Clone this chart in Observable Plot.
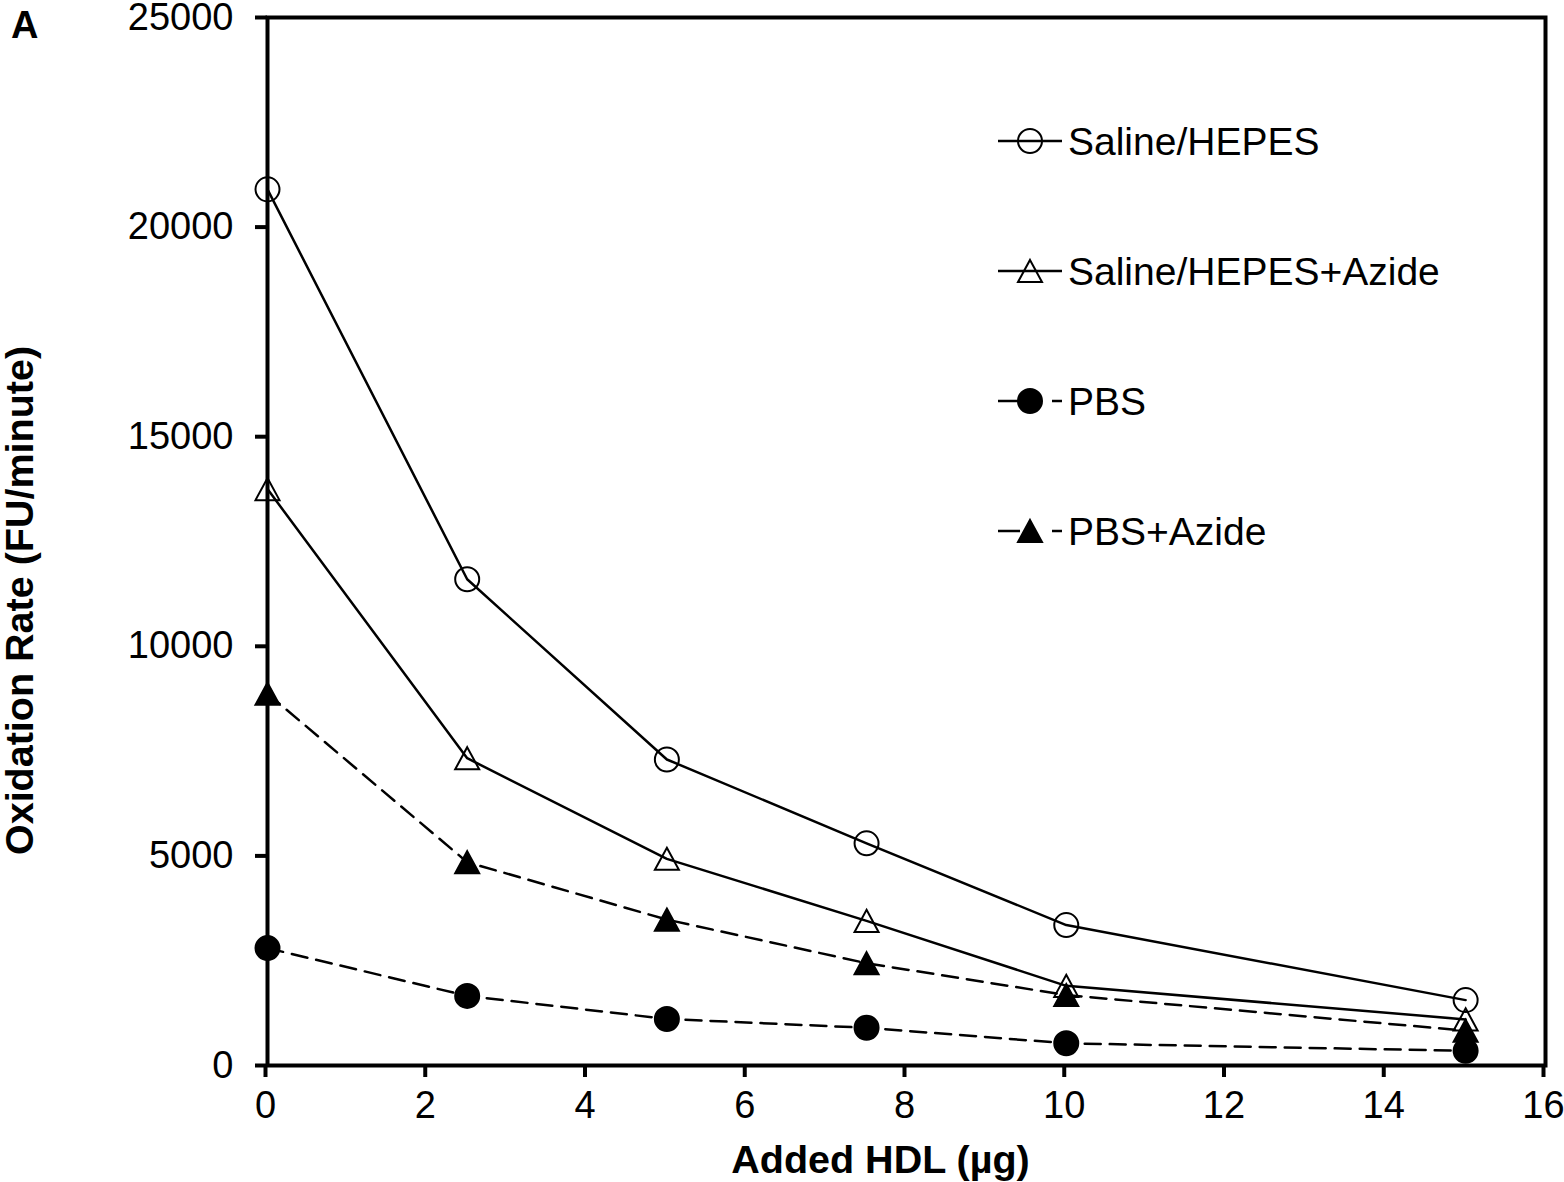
<!DOCTYPE html>
<html><head><meta charset="utf-8">
<script src="https://cdn.jsdelivr.net/npm/d3@7"></script>
<script src="https://cdn.jsdelivr.net/npm/@observablehq/plot@0.6"></script>
<style>
html,body{margin:0;padding:0;background:#fff;}
#wrap{position:relative;width:1564px;height:1182px;font-family:"Liberation Sans",Arial,sans-serif;}
#panel{position:absolute;left:11px;top:6px;font-weight:bold;font-size:38px;line-height:1;}
#legend{position:absolute;left:0;top:0;pointer-events:none;}
</style></head><body><div id="wrap"><div id="panel">A</div></div>
<script>
// ---- data ----
const hdl = [0, 2.5, 5, 7.5, 10, 15];
const seriesNames = ["Saline/HEPES", "Saline/HEPES+Azide", "PBS", "PBS+Azide"];
const salineHepes = [20900, 11600, 7300, 5300, 3350, 1560];
const salineHepesAzide = [13750, 7330, 4930, 3450, 1900, 1100];
const pbs = [2800, 1660, 1110, 900, 530, 350];
const pbsAzide = [8870, 4850, 3480, 2440, 1680, 830];
const xTicks = [0, 2, 4, 6, 8, 10, 12, 14, 16];
const yTicks = [0, 5000, 10000, 15000, 20000, 25000];
const xLabel = "Added HDL (µg)";
const yLabel = "Oxidation Rate (FU/minute)";

// ---- styles (kept separate from data) ----
const seriesValues = [salineHepes, salineHepesAzide, pbs, pbsAzide];
const style = {
  "Saline/HEPES": {shape: "circle", filled: false, dashed: false},
  "Saline/HEPES+Azide": {shape: "triangle", filled: false, dashed: false},
  "PBS": {shape: "circle", filled: true, dashed: true},
  "PBS+Azide": {shape: "triangle", filled: true, dashed: true}
};
const DASH = "16,9";
const R = 12;
// bbox-centred triangle (Excel style)
const tri = {
  draw(ctx, size) {
    const r = Math.sqrt(size / Math.PI);
    const w = r, h = r * 0.92;
    ctx.moveTo(0, -h);
    ctx.lineTo(w, h);
    ctx.lineTo(-w, h);
    ctx.closePath();
  }
};
const sym = s => style[s].shape === "triangle" ? tri : d3.symbolCircle;

const rows = seriesNames.flatMap((name, i) =>
  hdl.map((x, j) => ({series: name, x, y: seriesValues[i][j]})));

const marks = [];
for (const name of seriesNames) {
  const st = style[name];
  const d = rows.filter(r => r.series === name);
  marks.push(Plot.line(d, {x: "x", y: "y", stroke: "black", strokeWidth: 2.5,
    strokeDasharray: st.dashed ? DASH : null}));
}
for (const name of seriesNames) {
  const st = style[name];
  const d = rows.filter(r => r.series === name);
  marks.push(Plot.dot(d, {x: "x", y: "y", r: R, symbol: () => sym(name),
    fill: st.filled ? "black" : "none", stroke: "black", strokeWidth: 2}));
}

const chart = Plot.plot({
  width: 1564, height: 1182,
  marginLeft: 267, marginRight: 19, marginTop: 17, marginBottom: 117,
  style: {fontSize: "38px", fontFamily: "'Liberation Sans', Arial, sans-serif", color: "black", background: "white"},
  x: {domain: [0, 16]},
  y: {domain: [0, 25000]},
  symbol: {type: "identity"},
  marks: [
    ...marks,
    Plot.frame({stroke: "black", strokeWidth: 4}),
    Plot.axisX({ticks: xTicks, tickSize: 12, tickPadding: 14, strokeWidth: 4, label: null, tickFormat: d => String(d), fontSize: 38, dx: -2}),
    Plot.axisY({ticks: yTicks, tickSize: 12, tickPadding: 22, strokeWidth: 4, label: null, tickFormat: d => String(d), fontSize: 38}),
    Plot.text([yLabel], {text: d => d, frameAnchor: "left", rotate: -90, dx: -247, dy: 59, fontWeight: "bold", fontSize: 39.5, textAnchor: "middle", lineAnchor: "middle"}),
    Plot.text([xLabel], {text: d => d, frameAnchor: "bottom", dx: -26, dy: 95, fontWeight: "bold", fontSize: 39.5, textAnchor: "middle", lineAnchor: "middle"})
  ]
});
const wrap = document.getElementById("wrap");
wrap.insertBefore(chart, wrap.firstChild);

// ---- legend overlay ----
const leg = d3.select(wrap).append("svg").attr("id", "legend")
  .attr("width", 1564).attr("height", 1182);
const legX0 = 998, legX1 = 1062, legM = 1030, legT = 1068, legY0 = 141, legStep = 130;
seriesNames.forEach((name, i) => {
  const st = style[name];
  const y = legY0 + i * legStep;
  const g = leg.append("g");
  g.append("line").attr("x1", legX0).attr("x2", legX1).attr("y1", y).attr("y2", y)
    .attr("stroke", "black").attr("stroke-width", 2.5)
    .attr("stroke-dasharray", st.dashed ? "22,32,10,30" : null);
  g.append("path").attr("transform", `translate(${legM},${y})`)
    .attr("d", d3.symbol(sym(name), R * R * Math.PI)())
    .attr("fill", st.filled ? "black" : "none").attr("stroke", "black").attr("stroke-width", 2);
  g.append("text").attr("x", legT).attr("y", y).attr("dy", "0.35em")
    .attr("font-size", 39).attr("font-family", "'Liberation Sans', Arial, sans-serif")
    .text(name);
});
</script></body></html>
